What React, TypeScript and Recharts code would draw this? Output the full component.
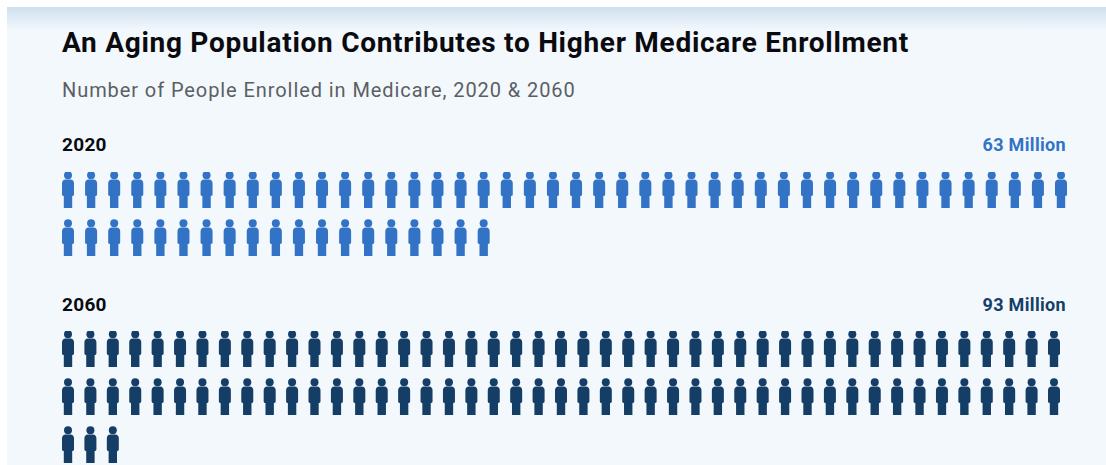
import React from 'react';
import { ScatterChart, Scatter, XAxis, YAxis } from 'recharts';

const years = ['2020', '2060'];
const enrolledMillions = [63, 93];
const enrolledLabels = ['63 Million', '93 Million'];
const iconsPerRow = [44, 45];
const rowCounts = [2, 3];
const iconColors = ['#3273c6', '#153e66'];
const plotWidths = [993, 986];

const FONT = 'Roboto, sans-serif';

// one icon per million people, filling rows left to right
const buildIcons = (total: number, perRow: number) =>
  Array.from({ length: total }, (_, i) => ({
    column: i % perRow,
    row: Math.floor(i / perRow),
  }));

const PersonIcon = ({ cx, cy, fill }: any) => (
  <g transform={`translate(${cx},${cy})`} fill={fill}>
    <circle cx={0} cy={-14.8} r={4} />
    <path d="M-2.5 -10.5 H2.5 Q6 -10.2 6 -6.5 V4.5 Q6 6 4.2 6 V18 H-4.2 V6 Q-6 6 -6 4.5 V-6.5 Q-6 -10.2 -2.5 -10.5 Z" />
  </g>
);

const PeopleRows = ({ index, top, height }: { index: number; top: number; height: number }) => (
  <div style={{ position: 'absolute', left: 45.5, top }}>
    <ScatterChart
      width={1040}
      height={height}
      margin={{ top: 18, right: 1040 - 22 - plotWidths[index], bottom: 19, left: 22 }}
    >
      <XAxis type="number" dataKey="column" domain={[0, iconsPerRow[index] - 1]} hide />
      <YAxis type="number" dataKey="row" domain={[0, rowCounts[index] - 1]} reversed hide />
      <Scatter
        data={buildIcons(enrolledMillions[index], iconsPerRow[index])}
        fill={iconColors[index]}
        shape={PersonIcon}
        isAnimationActive={false}
      />
    </ScatterChart>
  </div>
);

const textBase: React.CSSProperties = { position: 'absolute', fontFamily: FONT, whiteSpace: 'nowrap' };
const yearStyle: React.CSSProperties = { ...textBase, left: 62, fontSize: 19, lineHeight: '22px', fontWeight: 700, letterSpacing: 0.3, color: '#0b0b0f' };
const totalStyle: React.CSSProperties = { ...textBase, right: 40, fontSize: 18, lineHeight: '22px', fontWeight: 700, letterSpacing: 0.33 };

const App = () => (
  <div style={{ position: 'absolute', left: 0, top: 0, width: 1106, height: 465, overflow: 'hidden', background: '#ffffff' }}>
    <div
      style={{
        position: 'absolute',
        left: 7,
        top: 7,
        width: 1099,
        height: 458,
        background: 'linear-gradient(to bottom, #cfdfef 0px, #f3f8fd 24px)',
      }}
    />
    <div style={{ ...textBase, left: 62, top: 26, fontSize: 28, lineHeight: '34px', fontWeight: 700, letterSpacing: 0.72, color: '#0b0b0f' }}>
      An Aging Population Contributes to Higher Medicare Enrollment
    </div>
    <div style={{ ...textBase, left: 62, top: 78, fontSize: 20, lineHeight: '24px', letterSpacing: 0.92, color: '#5b5f63' }}>
      Number of People Enrolled in Medicare, 2020 &amp; 2060
    </div>

    <div style={{ ...yearStyle, top: 134 }}>{years[0]}</div>
    <div style={{ ...totalStyle, top: 134, color: iconColors[0] }}>{enrolledLabels[0]}</div>
    <PeopleRows index={0} top={172} height={85} />

    <div style={{ ...yearStyle, top: 294 }}>{years[1]}</div>
    <div style={{ ...totalStyle, top: 294, color: iconColors[1] }}>{enrolledLabels[1]}</div>
    <PeopleRows index={1} top={331} height={133} />
  </div>
);

export default App;
